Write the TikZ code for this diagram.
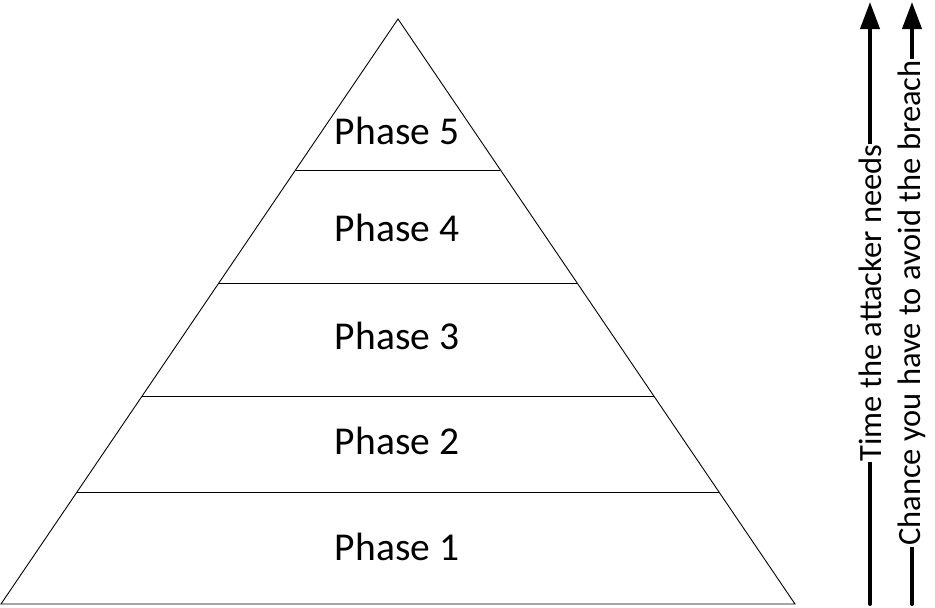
\documentclass[tikz,border=0pt]{standalone}
\usepackage{fontspec}
\setmainfont{Carlito}
\usetikzlibrary{arrows.meta,calc}
\tikzset{
  edge/.style={draw=black, line width=0.9pt},
  phase/.style={font=\fontsize{39.5}{41}\selectfont, inner sep=0pt},
  bigarrow/.style={line width=4pt, line cap=round, -{Triangle[length=27pt,width=19pt]}},
  arrowlabel/.style={font=\fontsize{32.5}{34}\selectfont, fill=white, rotate=90, inner sep=1pt}
}
\begin{document}
\begin{tikzpicture}[x=1pt,y=-1pt]
\useasboundingbox (0,0) rectangle (935,608);
\coordinate (A) at (398,19);
\coordinate (BL) at (1,604);
\coordinate (BR) at (795,604);
\draw[edge] (A) -- (BL) -- (BR) -- cycle;
\foreach \t/\n in {0.2581/a,0.4513/b,0.6444/c,0.8085/d}{
  \draw[edge] ($(A)!\t!(BL)$) -- ($(A)!\t!(BR)$);
}
\node[phase] (p5) at (397,131) {Phase 5};
\node[phase] (p4) at (397,228) {Phase 4};
\node[phase] (p3) at (397,336) {Phase 3};
\node[phase] (p2) at (397,441) {Phase 2};
\node[phase] (p1) at (397,547) {Phase 1};
\coordinate (t0) at (870,604);
\coordinate (t1) at (870,2);
\coordinate (c0) at (912,604);
\coordinate (c1) at (912,2);
\draw[bigarrow] (t0) -- (t1) node[midway, arrowlabel] (tl) {Time the attacker needs};
\draw[bigarrow] (c0) -- (c1) node[midway, arrowlabel] (cl) {Chance you have to avoid the breach};
\end{tikzpicture}
\end{document}
